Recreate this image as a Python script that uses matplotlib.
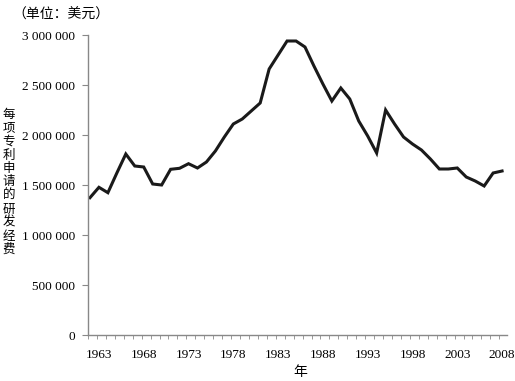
import matplotlib
matplotlib.use("Agg")
import matplotlib.pyplot as plt
import numpy as np

years = list(range(1962, 2009))
cost = [1.373, 1.477, 1.423, 1.62, 1.81, 1.69, 1.68, 1.51, 1.50, 1.657,
        1.667, 1.713, 1.67, 1.73, 1.84, 1.98, 2.11, 2.16, 2.24, 2.32,
        2.66, 2.80, 2.94, 2.94, 2.88, 2.69, 2.51, 2.34, 2.47, 2.36,
        2.14, 1.99, 1.82, 2.25, 2.11, 1.98, 1.91, 1.85, 1.76, 1.66,
        1.66, 1.67, 1.58, 1.54, 1.49, 1.62, 1.64]
cost = [v * 1e6 for v in cost]
xlabels = [1963, 1968, 1973, 1978, 1983, 1988, 1993, 1998, 2003, 2008]
yticks = [0, 500000, 1000000, 1500000, 2000000, 2500000, 3000000]
ylabel = '每项专利申请的研发经费'

cjk = ['Noto Sans CJK SC', 'DejaVu Sans']
num = 'Liberation Serif'

fig = plt.figure(figsize=(5.15, 3.81), dpi=100)
ax = fig.add_axes([88/515, 46/381, 419/515, 300/381])

ax.plot(years, cost, color='#1a1a1a', lw=2.2, solid_joinstyle='miter')

ax.set_xlim(1961.78, 2008.55)
ax.set_ylim(0, 3e6)
ax.set_yticks(yticks)
ax.set_yticklabels([f"{v:,}".replace(",", " ") for v in yticks], fontfamily=num, fontsize=9.5)
ax.set_xticks(xlabels)
ax.set_xticklabels([str(y) for y in xlabels], fontfamily=num, fontsize=9.5)
ax.set_xticks(np.arange(1961.78, 2008.6, 0.998), minor=True)
ax.tick_params(axis='x', which='major', length=0, pad=10)
ax.tick_params(axis='x', which='minor', length=3, color='#888888', direction='out')
ax.tick_params(axis='y', length=4, color='#888888', pad=5)

for s in ['top', 'right']:
    ax.spines[s].set_visible(False)
for s in ['left', 'bottom']:
    ax.spines[s].set_color('#888888')
    ax.spines[s].set_linewidth(1)

fig.text(61/515, 1 - 15/381, '（单位：美元）', family=cjk, fontsize=10,
         ha='center', va='center')
step = 13.5
y0 = 182 - step * (len(ylabel) - 1) / 2
for i, ch in enumerate(ylabel):
    fig.text(9/515, 1 - (y0 + i * step)/381, ch, family=cjk,
             fontsize=9, ha='center', va='center')
fig.text(300/515, 1 - 372/381, '年', family=cjk, fontsize=10, ha='center', va='center')

fig.savefig('out.png', dpi=100)
